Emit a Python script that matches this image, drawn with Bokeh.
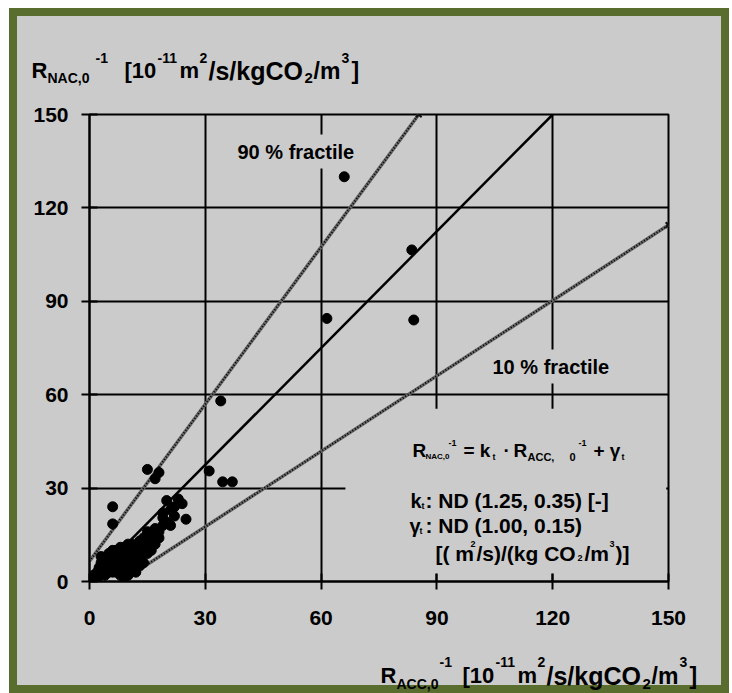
from bokeh.plotting import figure
from bokeh.layouts import column
from bokeh.models import Label, BoxAnnotation
from bokeh.embed import file_html
from bokeh.resources import INLINE

# ---------------- data ----------------
scatter_x = [66, 83.5, 61.5, 84, 34, 31, 34.5, 37, 15, 18, 17, 6, 6, 20, 23, 25, 21, 19, 18, 15,
             1, 2.5, 3, 3, 4, 4, 5, 5, 6, 6, 7, 7, 8, 8, 9, 9, 10, 10, 11, 11, 12, 12, 13, 13,
             14, 14, 15, 15.5, 16, 17, 17, 19, 21, 22, 24, 22, 20,
             2, 3, 4, 5, 6, 6, 7, 7, 8, 8, 9, 9, 10, 10, 11, 11, 12, 12, 13, 13, 14, 14,
             15, 16, 16, 13, 10, 8, 5, 4, 2, 18, 19, 17]
scatter_y = [130, 106.5, 84.5, 84, 58, 35.5, 32, 32, 36, 35, 33, 24, 18.5, 26, 26.5, 20, 18, 20.5, 14, 16,
             2, 4.5, 3, 8, 2, 5, 3, 7, 5, 10, 3, 8, 2, 6, 1, 9, 4, 7.5, 5, 10, 3, 8, 13, 10,
             6, 12, 9, 13, 15, 12, 17, 22, 23, 24, 25, 21, 19,
             3, 6, 7, 5, 3, 7, 5, 10, 4, 8, 6, 11, 2, 9, 7, 12, 6, 10, 5, 8, 9, 14,
             11, 13, 10, 12, 12, 11, 9, 3, 1, 16, 18, 14]
mean_x = [0, 120]
mean_y = [0, 150]
f90_x = [0, 85.3]
f90_y = [6.5, 150]
f10_x = [8.2, 150]
f10_y = [0, 114.5]
axis_ticks = [0, 30, 60, 90, 120, 150]
grid_ticks = [30, 60, 90, 120]

GRAY = "#cbcbcb"
GREEN = "#596d2e"
FONT = "Liberation Sans"

W = 720
ML, MT = 9, 8
TOP_H = 90           # title strip
MAIN_H = 542         # main plot
BOT_H = 53           # x title strip
BL, BT = 80, 16
FW, FH = 579, 467
BR = W - BL - FW
BB = MAIN_H - BT - FH
FX0 = ML + BL                    # frame left in window
FY0 = MT + TOP_H + BT + FH       # frame bottom in window
BOT_Y0 = MT + TOP_H + MAIN_H     # bottom strip top in window


def strip(h):
    f = figure(width=W, height=h, x_range=(0, W), y_range=(0, h), x_axis_type=None, y_axis_type=None,
               output_backend="svg", toolbar_location=None,
               min_border_left=0, min_border_right=0, min_border_top=0, min_border_bottom=0)
    f.frame_align = False
    f.background_fill_alpha = 0
    f.border_fill_alpha = 0
    f.outline_line_color = None
    f.grid.visible = False
    return f


top = strip(TOP_H)
bot = strip(BOT_H)

p = figure(width=W, height=MAIN_H, x_range=(0, 150), y_range=(0, 150),
           output_backend="svg", toolbar_location=None,
           min_border_left=BL, min_border_right=BR, min_border_top=BT, min_border_bottom=BB,
           background_fill_color=GRAY)
p.frame_align = False
p.border_fill_alpha = 0
p.outline_line_color = "black"
p.outline_line_width = 2

for ax in (p.xaxis[0], p.yaxis[0]):
    ax.ticker = axis_ticks
    ax.axis_line_color = "black"
    ax.axis_line_width = 2
    ax.major_tick_line_color = "black"
    ax.major_tick_line_width = 2
    ax.major_tick_in = 8
    ax.major_tick_out = 8
    ax.minor_tick_line_color = None
    ax.major_label_text_font = FONT
    ax.major_label_text_font_style = "bold"
    ax.major_label_text_font_size = "21px"
    ax.major_label_text_color = "black"
p.xaxis.major_label_standoff = 21
p.yaxis.major_label_standoff = 13

for g in (p.xgrid[0], p.ygrid[0]):
    g.ticker = grid_ticks
    g.grid_line_color = "black"
    g.grid_line_width = 2

# equation box hides grid lines behind it
p.add_layout(BoxAnnotation(left=66.3, right=149.4, bottom=2.5, top=55.5,
                           fill_color=GRAY, fill_alpha=1, line_color=None, level="underlay"))

# fractile lines
for fx, fy in ((f90_x, f90_y), (f10_x, f10_y)):
    p.line(fx, fy, line_color="#666666", line_width=3.5)
    p.line(fx, fy, line_color="#000000", line_width=2, line_dash="1 2")
    p.scatter(fx[-1:], fy[-1:], marker="x", size=8, line_color="#101010", line_width=2)
p.line(mean_x, mean_y, line_color="black", line_width=2.5)
p.scatter(scatter_x, scatter_y, size=10, fill_color="black", line_color="black")


def lab(text, size, style="bold", **kw):
    return Label(text=text, text_font=FONT, text_font_style=style, text_font_size=f"{size}px",
                 text_color="black", text_baseline="alphabetic", text_align="left", **kw)


def seg_main(text, X, Y, size):
    p.add_layout(lab(text, size, x=X - FX0, y=FY0 - Y, x_units="screen", y_units="screen"))


def seg_top(text, X, Y, size):
    top.add_layout(lab(text, size, x=X - ML, y=TOP_H - (Y - MT)))


def seg_bot(text, X, Y, size):
    bot.add_layout(lab(text, size, x=X - ML, y=BOT_H - (Y - BOT_Y0)))


# y title
seg_top("R", 31, 70, 22)
seg_top("NAC,0", 47, 77, 14)
seg_top("-1", 95, 57, 14)
seg_top("[10", 124, 70, 22)
seg_top("-11", 157, 57, 14)
seg_top("m", 179, 70, 22)
seg_top("2", 199, 57, 14)
seg_top("/s/kgCO", 208, 70, 25)
seg_top("2", 304, 77, 15)
seg_top("/m", 313, 70, 23)
seg_top("3", 341, 57, 14)
seg_top("]", 351, 70, 23)

# x title
seg_bot("R", 380, 675, 22)
seg_bot("ACC,0", 396, 683, 14)
seg_bot("-1", 439, 661, 14)
seg_bot("[10", 462, 675, 22)
seg_bot("-11", 495, 661, 14)
seg_bot("m", 517, 675, 22)
seg_bot("2", 537, 661, 14)
seg_bot("/s/kgCO", 546, 675, 25)
seg_bot("2", 642, 683, 15)
seg_bot("/m", 651, 675, 23)
seg_bot("3", 679, 661, 14)
seg_bot("]", 689, 675, 23)

# equation text
seg_main("R", 412, 450, 19)
seg_main("NAC,0", 425, 456, 8)
seg_main("-1", 448, 442, 9)
seg_main("= k", 463, 450, 19)
seg_main("t", 492, 456, 9)
seg_main("·", 503, 450, 19)
seg_main("R", 513, 450, 19)
seg_main("ACC,", 527, 456, 11)
seg_main("0", 569, 456, 11)
seg_main("-1", 578, 442, 9)
seg_main("+ γ", 593, 450, 19)
seg_main("t", 621, 456, 9)

seg_main("k", 410, 500, 20)
seg_main("t", 421, 505, 9)
seg_main(": ND (1.25, 0.35)  [-]", 425, 500, 21)
seg_main("γ", 409, 525, 20)
seg_main("t", 419, 530, 9)
seg_main(": ND (1.00, 0.15)", 425, 525, 21)
seg_main("[( m", 435, 553, 21)
seg_main("2", 470, 543, 9)
seg_main("/s)/(kg CO", 476, 553, 21)
seg_main("2", 577, 557, 9)
seg_main("/m", 584, 553, 21)
seg_main("3", 609, 543, 9)
seg_main(")]", 615, 553, 21)

# fractile labels (background hides grid lines)
PAD = 6
for txt, X, Y in (("90 % fractile", 237, 157), ("10 % fractile", 492, 372)):
    p.add_layout(Label(x=X - FX0 - PAD, y=FY0 - Y + PAD, x_units="screen", y_units="screen", text=txt,
                       text_font=FONT, text_font_style="bold", text_font_size="20px",
                       text_color="black", text_baseline="alphabetic", text_align="left",
                       background_fill_color=GRAY, background_fill_alpha=1, padding=PAD))

layout = column(top, p, bot, spacing=0, margin=(MT, 0, 0, ML),
                styles={"background-color": GRAY, "box-shadow": f"inset 0 0 0 8px {GREEN}"})

open("out.html", "w").write(file_html(layout, INLINE))
